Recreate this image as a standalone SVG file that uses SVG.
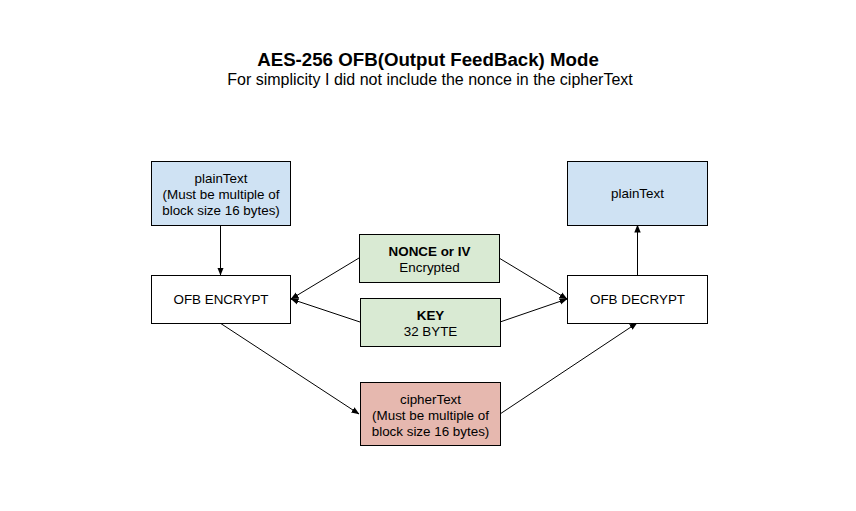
<svg xmlns="http://www.w3.org/2000/svg" width="856" height="511" viewBox="0 0 856 511">
<style>
text{font-family:"Liberation Sans",Arial,sans-serif;fill:#000;text-anchor:middle}
.t{font-size:13.4px}
.b{font-weight:bold}
.n{stroke:#000;stroke-width:1}
.w{fill:#fff}.blue{fill:#cfe2f3}.green{fill:#d9ead3}.red{fill:#e6b8af}
.c line{stroke:#000;stroke-width:1;marker-end:url(#ah)}
</style>
<defs>
<marker id="ah" viewBox="0 0 8 8" refX="7.5" refY="4" markerWidth="8" markerHeight="8" markerUnits="userSpaceOnUse" orient="auto">
<path d="M0,0.8 L8,4 L0,7.2 z" fill="#000"/>
</marker>
</defs>
<rect width="856" height="511" fill="#fff"/>
<text x="428" y="66" font-size="18.7" class="b">AES-256 OFB(Output FeedBack) Mode</text>
<text x="430" y="85" font-size="16">For simplicity I did not include the nonce in the cipherText</text>
<g class="c" id="connectors">
<line x1="220.5" y1="225" x2="220.5" y2="275"/>
<line x1="359" y1="258" x2="291" y2="299"/>
<line x1="360" y1="322" x2="291" y2="299"/>
<line x1="499" y1="258" x2="567" y2="299"/>
<line x1="500" y1="322" x2="567" y2="299"/>
<line x1="637.5" y1="275" x2="637.5" y2="225"/>
<line x1="220" y1="323" x2="359" y2="414"/>
<line x1="500" y1="414" x2="637" y2="323"/>
</g>
<g id="plain1"><rect class="n blue" x="151.5" y="161.5" width="139" height="64"/>
<text class="t" x="221" y="183">plainText</text><text class="t" x="221" y="199">(Must be multiple of</text><text class="t" x="221" y="215">block size 16 bytes)</text></g>
<g id="enc"><rect class="n w" x="151.5" y="275.5" width="139" height="48"/>
<text class="t" x="221" y="304">OFB ENCRYPT</text></g>
<g id="nonce"><rect class="n green" x="359.5" y="234.5" width="140" height="48"/>
<text class="t b" x="429.5" y="256">NONCE or IV</text><text class="t" x="429.5" y="272">Encrypted</text></g>
<g id="key"><rect class="n green" x="360.5" y="298.5" width="140" height="48"/>
<text class="t b" x="430.5" y="320">KEY</text><text class="t" x="430.5" y="336">32 BYTE</text></g>
<g id="plain2"><rect class="n blue" x="567.5" y="161.5" width="140" height="64"/>
<text class="t" x="637.5" y="198">plainText</text></g>
<g id="dec"><rect class="n w" x="567.5" y="275.5" width="140" height="48"/>
<text class="t" x="637.5" y="304">OFB DECRYPT</text></g>
<g id="cipher"><rect class="n red" x="360.5" y="382.5" width="140" height="63"/>
<text class="t" x="430.5" y="404">cipherText</text><text class="t" x="430.5" y="420">(Must be multiple of</text><text class="t" x="430.5" y="436">block size 16 bytes)</text></g>
</svg>
